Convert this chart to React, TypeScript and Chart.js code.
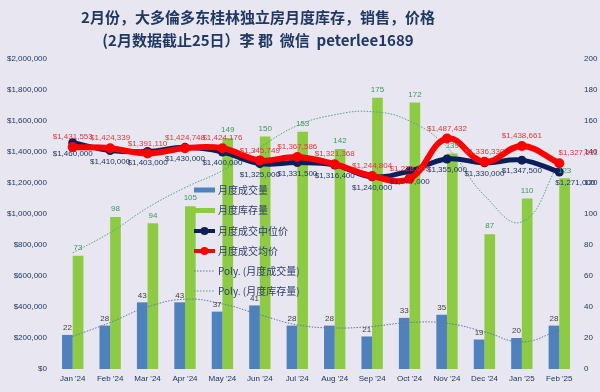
import React, { useEffect, useRef } from 'react';
import { Chart, registerables } from 'chart.js';

Chart.register(...registerables);

const months = ["Jan '24", "Feb '24", "Mar '24", "Apr '24", "May '24", "Jun '24", "Jul '24", "Aug '24", "Sep '24", "Oct '24", "Nov '24", "Dec '24", "Jan '25", "Feb '25"];
const salesCount = [22, 28, 43, 43, 37, 41, 28, 28, 21, 33, 35, 19, 20, 28];
const inventory = [73, 98, 94, 105, 149, 150, 153, 142, 175, 172, 139, 87, 110, 123];
const medianPrice = [1460000, 1410000, 1403000, 1430000, 1400000, 1325000, 1331500, 1316400, 1240000, 1277000, 1355000, 1330000, 1347500, 1271000];
const avgPrice = [1431553, 1424339, 1391110, 1424748, 1424176, 1345749, 1367586, 1321368, 1244804, 1228000, 1487432, 1336330, 1438661, 1327611];
const salesTrend = [21, 30, 40, 45, 42, 35, 28.5, 26.5, 27.5, 30, 29.5, 24, 17.5, 25];
const inventoryTrend = [75, 88, 104, 117, 128, 143, 157, 164, 166, 160, 143, 112, 95, 133];

const seriesNames = ['月度成交量', '月度库存量', '月度成交中位价', '月度成交均价', 'Poly. (月度成交量)', 'Poly. (月度库存量)'];
const titleLines = ['2月份，大多倫多东桂林独立房月度库存，销售，价格', '(2月数据截止25日）李 郡  微信  peterlee1689'];

const BG = '#E8E6F0';
const NAVY_TEXT = '#1F3864';
const BLUE = '#4F81BD';
const GREEN = '#8DCB45';
const NAVY = '#0A1F5C';
const RED = '#FF0000';
const SALES_TREND = '#5B78A6';
const INV_TREND = '#4FA58A';
const SMALL_FONT = "'Liberation Sans Narrow', 'Liberation Sans', sans-serif";
const CJK_FONT = "'Noto Sans CJK SC', 'Noto Sans', sans-serif";

const fmtMoney = (v: number) => '$' + Math.round(v).toLocaleString('en-US');

const bgPlugin = {
  id: 'bgFill',
  beforeDraw(chart: any) {
    const ctx = chart.ctx;
    ctx.save();
    ctx.fillStyle = BG;
    ctx.fillRect(0, 0, chart.width, chart.height);
    ctx.restore();
  },
};

const titlePlugin = {
  id: 'customTitle',
  afterDraw(chart: any) {
    const ctx = chart.ctx;
    ctx.save();
    ctx.fillStyle = NAVY_TEXT;
    ctx.font = `bold 15px ${CJK_FONT}`;
    ctx.textAlign = 'center';
    ctx.textBaseline = 'middle';
    ctx.fillText(titleLines[0], 258, 17);
    ctx.fillText(titleLines[1], 258, 40);
    ctx.restore();
  },
};

const labelPlugin = {
  id: 'valueLabels',
  afterDatasetsDraw(chart: any) {
    const ctx = chart.ctx;
    ctx.save();
    ctx.textAlign = 'center';
    ctx.textBaseline = 'middle';
    ctx.font = `8px ${SMALL_FONT}`;
    chart.data.datasets.forEach((ds: any, di: number) => {
      const kind = ds.labelKind;
      if (!kind) return;
      const meta = chart.getDatasetMeta(di);
      const last = meta.data.length - 1;
      meta.data.forEach((el: any, i: number) => {
        const v = ds.data[i];
        let x = el.x;
        let y = el.y;
        let text = String(v);
        if (kind === 'sales') {
          ctx.fillStyle = '#404040';
          y = el.y - 7;
        } else if (kind === 'inv') {
          ctx.fillStyle = '#3B9A5A';
          y = el.y - 8;
        } else if (kind === 'avg') {
          ctx.fillStyle = '#E03A3A';
          text = fmtMoney(v);
          y = el.y - 10;
          if (i === last) x += 19;
        } else if (kind === 'median') {
          ctx.fillStyle = NAVY_TEXT;
          text = fmtMoney(v);
          y = el.y + 11;
          if (i === last) x += 16;
        }
        ctx.fillText(text, x, y);
      });
    });
    ctx.restore();
  },
};

const legendPlugin = {
  id: 'customLegend',
  afterDraw(chart: any) {
    const ctx = chart.ctx;
    ctx.save();
    const x0 = 194;
    const x1 = 215;
    const rows = [190, 210.5, 231, 251, 271, 291];
    ctx.textBaseline = 'middle';
    ctx.textAlign = 'left';
    rows.forEach((ry, i) => {
      if (i === 0 || i === 1) {
        ctx.fillStyle = i === 0 ? BLUE : GREEN;
        ctx.fillRect(x0, ry - 2.5, x1 - x0, 5);
      } else if (i === 2 || i === 3) {
        const c = i === 2 ? NAVY : RED;
        ctx.strokeStyle = c;
        ctx.lineWidth = 4;
        ctx.beginPath();
        ctx.moveTo(x0, ry);
        ctx.lineTo(x1, ry);
        ctx.stroke();
        ctx.fillStyle = c;
        ctx.beginPath();
        ctx.arc((x0 + x1) / 2, ry, 4, 0, Math.PI * 2);
        ctx.fill();
      } else {
        ctx.strokeStyle = i === 4 ? SALES_TREND : INV_TREND;
        ctx.lineWidth = 1;
        ctx.setLineDash([1.5, 1.5]);
        ctx.beginPath();
        ctx.moveTo(x0, ry);
        ctx.lineTo(x1, ry);
        ctx.stroke();
        ctx.setLineDash([]);
      }
      ctx.fillStyle = '#2E3D6B';
      ctx.font = `10px ${CJK_FONT}`;
      ctx.fillText(seriesNames[i], 218, ry);
    });
    ctx.restore();
  },
};

export default function App() {
  const ref = useRef<HTMLCanvasElement>(null);

  useEffect(() => {
    if (!ref.current) return;
    const chart = new Chart(ref.current, {
      type: 'bar',
      data: {
        labels: months,
        datasets: [
          {
            type: 'line',
            label: seriesNames[3],
            data: avgPrice,
            yAxisID: 'y',
            borderColor: RED,
            backgroundColor: RED,
            borderWidth: 6,
            pointRadius: 5,
            pointBorderWidth: 0,
            tension: 0.4,
            order: 1,
            labelKind: 'avg',
          } as any,
          {
            type: 'line',
            label: seriesNames[2],
            data: medianPrice,
            yAxisID: 'y',
            borderColor: NAVY,
            backgroundColor: NAVY,
            borderWidth: 5,
            pointRadius: 4.5,
            pointBorderWidth: 0,
            tension: 0.4,
            order: 2,
            labelKind: 'median',
          } as any,
          {
            type: 'line',
            label: seriesNames[4],
            data: salesTrend,
            yAxisID: 'y1',
            borderColor: SALES_TREND,
            borderWidth: 1,
            borderDash: [1.5, 1.5],
            pointRadius: 0,
            tension: 0.45,
            order: 3,
          } as any,
          {
            type: 'line',
            label: seriesNames[5],
            data: inventoryTrend,
            yAxisID: 'y1',
            borderColor: INV_TREND,
            borderWidth: 1,
            borderDash: [1.5, 1.5],
            pointRadius: 0,
            tension: 0.45,
            order: 4,
          } as any,
          {
            type: 'bar',
            label: seriesNames[0],
            data: salesCount,
            yAxisID: 'y1',
            backgroundColor: BLUE,
            categoryPercentage: 0.57,
            barPercentage: 1,
            order: 5,
            labelKind: 'sales',
          } as any,
          {
            type: 'bar',
            label: seriesNames[1],
            data: inventory,
            yAxisID: 'y1',
            backgroundColor: GREEN,
            categoryPercentage: 0.57,
            barPercentage: 1,
            order: 6,
            labelKind: 'inv',
          } as any,
        ],
      },
      options: {
        responsive: false,
        animation: false,
        layout: { padding: { top: 59, left: 0, right: 0, bottom: 0 } },
        plugins: {
          legend: { display: false },
          title: { display: false },
          tooltip: { enabled: false },
        },
        scales: {
          x: {
            offset: true,
            grid: { display: false, drawTicks: false },
            border: { display: false },
            ticks: {
              color: NAVY_TEXT,
              font: { size: 8, family: SMALL_FONT },
              padding: 5,
              maxRotation: 0,
              autoSkip: false,
            },
            afterFit(scale: any) {
              scale.height = 23;
            },
          },
          y: {
            position: 'left',
            min: 0,
            max: 2000000,
            grid: { display: false, drawTicks: false },
            border: { display: false },
            ticks: {
              stepSize: 200000,
              color: NAVY_TEXT,
              font: { size: 8, family: SMALL_FONT },
              padding: 7,
              callback: (v: any) => fmtMoney(Number(v)),
            },
            afterFit(scale: any) {
              scale.width = 54;
            },
          },
          y1: {
            position: 'right',
            min: 0,
            max: 200,
            grid: { display: false, drawTicks: false },
            border: { display: false },
            ticks: {
              stepSize: 20,
              color: NAVY_TEXT,
              font: { size: 8, family: SMALL_FONT },
              padding: 6,
            },
            afterFit(scale: any) {
              scale.width = 22;
            },
          },
        },
      } as any,
      plugins: [bgPlugin, labelPlugin, legendPlugin, titlePlugin],
    });
    return () => chart.destroy();
  }, []);

  return (
    <div style={{ position: 'fixed', left: 0, top: 0, width: 600, height: 392, background: BG }}>
      <canvas ref={ref} width={600} height={392} style={{ display: 'block', width: 600, height: 392 }} />
    </div>
  );
}
